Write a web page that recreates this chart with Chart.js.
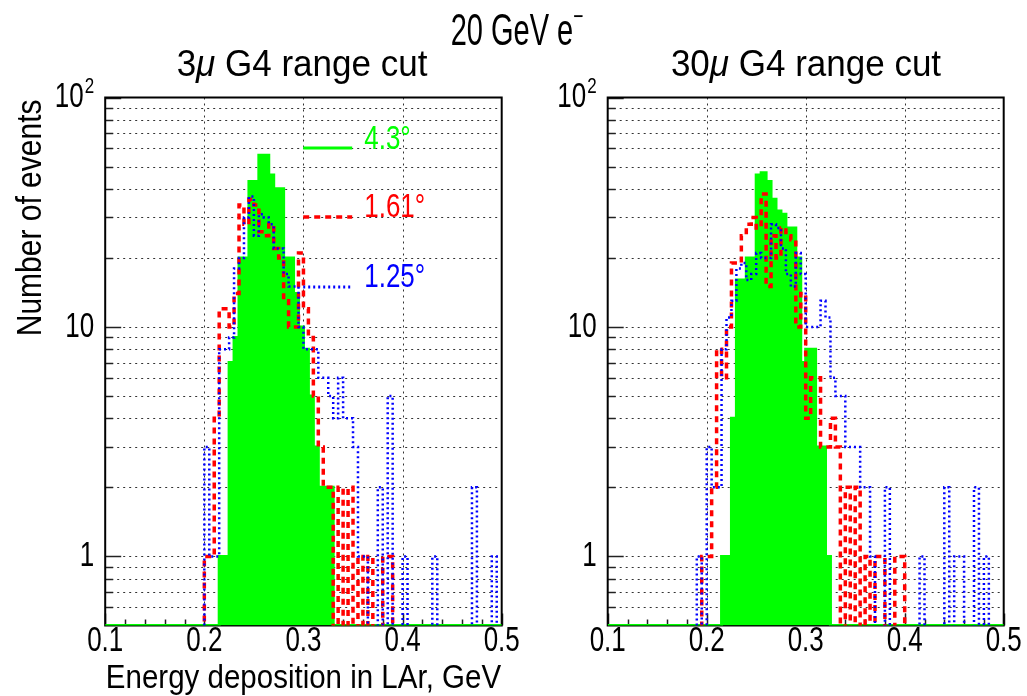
<!DOCTYPE html>
<html>
<head>
<meta charset="utf-8">
<script src="https://cdn.jsdelivr.net/npm/chart.js@4.4.0/dist/chart.umd.min.js"></script>
<style>
  html, body { margin: 0; padding: 0; background: #fff; }
  #wrap { position: relative; width: 1027px; height: 696px; overflow: hidden; }
  canvas { position: absolute; left: 0; top: 0; }
  .title {
    position: absolute;
    font-family: "Liberation Sans", Arial, sans-serif;
    color: #000;
    white-space: nowrap;
    line-height: 1;
  }
  .title sup { font-size: 60%; vertical-align: 0.75em; }
</style>
</head>
<body>
<div id="wrap">
  <canvas id="leftChart" width="1027" height="696"></canvas>
  <canvas id="rightChart" width="1027" height="696"></canvas>
  <div class="title" style="left:517px; top:28px; font-size:29px; transform: translate(-50%,-50%) scaleY(1.5);">20 GeV e<sup>&minus;</sup></div>
  <div class="title" style="left:302px; top:62px; font-size:35px; transform: translate(-50%,-50%) scaleY(1.08);">3<i>&mu;</i> G4 range cut</div>
  <div class="title" style="left:806px; top:62px; font-size:35px; transform: translate(-50%,-50%) scaleY(1.08);">30<i>&mu;</i> G4 range cut</div>
</div>

<script>
// histogram binning, energy in GeV
const binLow = 0.1;
const binHigh = 0.5;
const binWidth = 0.005;
const firstBin = 18; // arrays below start at bin 18 (0.19 GeV), earlier bins are empty

const xTicks = [0.1, 0.2, 0.3, 0.4, 0.5];
const xTickLabels = ['0.1', '0.2', '0.3', '0.4', '0.5'];
const xGridValues = [0.2, 0.3, 0.4];
const yTicks = [1, 10, 100];
const yTickLabels = ['1', '10', '10|2'];
const yGridValues = [0.6, 0.7, 0.8, 0.9, 1, 2, 3, 4, 5, 6, 7, 8, 9, 10, 20, 30, 40, 50, 60, 70, 80, 90];
const yMin = 0.5;
const yMax = 100;

const legendLabels = ['4.3°', '1.61°', '1.25°'];

// 3 micron range cut
const greenLeft = [0, 0, 0, 0, 0, 1, 1, 7, 9, 20, 20, 43, 43, 56, 56, 46, 40, 40, 20, 20, 14, 10, 8, 5, 3, 2, 2, 2,
  0, 0, 0, 0, 0, 0, 0, 0, 0, 0, 0, 0, 0, 0, 0, 0, 0, 0, 0, 0, 0, 0, 0, 0, 0, 0, 0, 0, 0, 0, 0, 0, 0, 0];
const redLeft = [0, 0, 1, 1, 4, 12, 12, 10, 14, 34, 28, 36, 34, 26, 25, 28, 22, 20, 13, 10, 10, 21, 12, 9, 5, 3, 2, 2,
  0, 2, 0, 2, 0, 1, 0, 1, 0, 0, 1, 1, 0, 0, 0, 0, 0, 0, 0, 0, 0, 0, 0, 0, 0, 0, 0, 0, 0, 0, 0, 0, 0, 0];
const blueLeft = [0, 0, 3, 1, 1, 8, 8, 9, 18, 20, 30, 37, 25, 31, 30, 28, 22, 22, 17, 15, 15, 10, 8, 8, 8, 6, 6, 5,
  4, 6, 4, 4, 3, 1, 1, 0, 0, 2, 0, 5, 0, 0, 1, 0, 0, 0, 0, 0, 1, 0, 0, 0, 0, 0, 0, 0, 2, 0, 0, 0, 1, 0];

// 30 micron range cut
const greenRight = [0, 0, 0, 0, 0, 1, 1, 4, 16, 16, 20, 20, 46, 47, 43, 36, 32, 31, 27, 27, 20, 7, 8, 8, 3, 3, 1,
  0, 0, 0, 0, 0, 0, 0, 0, 0, 0, 0, 0, 0, 0, 0, 0, 0, 0, 0, 0, 0, 0, 0, 0, 0, 0, 0, 0, 0, 0, 0, 0, 0, 0, 0];
const redRight = [0, 1, 1, 2, 8, 6, 10, 19, 19, 25, 28, 30, 27, 38, 15, 25, 20, 27, 25, 24, 10, 14, 4, 6, 6, 3, 3, 4,
  3, 0, 2, 0, 2, 0, 1, 0, 1, 1, 0, 0, 1, 1, 0, 0, 0, 0, 0, 0, 0, 0, 0, 0, 0, 0, 0, 0, 0, 0, 0, 0, 0, 0];
const blueRight = [1, 0, 3, 2, 2, 8, 11, 13, 18, 19, 16, 17, 21, 20, 20, 28, 27, 22, 17, 15, 21, 17, 10, 10, 10, 13, 11, 6,
  5, 5, 3, 3, 3, 2, 2, 1, 0, 0, 2, 0, 0, 0, 0, 0, 0, 1, 0, 0, 0, 0, 2, 0, 1, 1, 0, 0, 2, 0, 1, 0, 0, 0];

const FONT = '"Liberation Sans", Arial, sans-serif';

/**
 * Turns bin counts into step points (left edge of every bin + closing right edge).
 * Empty bins are sent to `empty` so they fall on / below the frame like ROOT does.
 */
function histPoints(counts, empty) {
  const nBins = Math.round((binHigh - binLow) / binWidth);
  const points = [];
  for (let k = 0; k < nBins; k++) {
    const c = k >= firstBin ? counts[k - firstBin] : 0;
    points.push({ x: binLow + k * binWidth, y: c > 0 ? c : empty });
  }
  points.push({ x: binHigh, y: points[nBins - 1].y });
  return points;
}

function stretchedText(ctx, text, x, y, size, opts = {}) {
  ctx.save();
  ctx.translate(x, y);
  if (opts.rotate) ctx.rotate(opts.rotate);
  ctx.scale(1, opts.sy || 1.3);
  ctx.font = `${size}px ${FONT}`;
  ctx.fillStyle = opts.color || '#000';
  ctx.textAlign = opts.align || 'center';
  ctx.textBaseline = 'middle';
  ctx.fillText(text, 0, 0);
  ctx.restore();
}

const rootAxes = {
  id: 'rootAxes',
  beforeDatasetsDraw(chart) {
    const { ctx, chartArea: ca, scales } = chart;
    ctx.save();
    // dotted grid
    ctx.strokeStyle = '#333';
    ctx.lineWidth = 1;
    ctx.setLineDash([2, 4]);
    yGridValues.forEach(v => {
      const y = Math.round(scales.y.getPixelForValue(v)) + 0.5;
      ctx.beginPath();
      ctx.moveTo(ca.left, y);
      ctx.lineTo(ca.right, y);
      ctx.stroke();
    });
    xGridValues.forEach(v => {
      const x = Math.round(scales.x.getPixelForValue(v)) + 0.5;
      ctx.beginPath();
      ctx.moveTo(x, ca.top);
      ctx.lineTo(x, ca.bottom);
      ctx.stroke();
    });
    ctx.setLineDash([]);

    // tick marks, drawn inside the frame
    ctx.strokeStyle = '#222';
    ctx.lineWidth = 1.5;
    yGridValues.concat([100]).forEach(v => {
      const y = Math.round(scales.y.getPixelForValue(v)) + 0.5;
      const len = yTicks.includes(v) ? 16 : 8;
      ctx.beginPath();
      ctx.moveTo(ca.left, y);
      ctx.lineTo(ca.left + len, y);
      ctx.stroke();
    });
    for (let i = 0; i <= 20; i++) {
      const x = Math.round(scales.x.getPixelForValue(binLow + i * 0.02)) + 0.5;
      const len = i % 5 === 0 ? 12 : 6;
      ctx.beginPath();
      ctx.moveTo(x, ca.bottom);
      ctx.lineTo(x, ca.bottom - len);
      ctx.stroke();
    }

    // frame (histograms are drawn over it, as in the original)
    ctx.strokeStyle = '#000';
    ctx.lineWidth = 2;
    ctx.strokeRect(ca.left, ca.top, ca.right - ca.left, ca.bottom - ca.top);
    ctx.restore();
  },
  afterDatasetsDraw(chart, args, opts) {
    const { ctx, chartArea: ca, scales } = chart;
    ctx.save();

    // tick labels
    xTicks.forEach((v, i) => {
      stretchedText(ctx, xTickLabels[i], scales.x.getPixelForValue(v), ca.bottom + 16, 26, { sy: 1.35 });
    });
    yTicks.forEach((v, i) => {
      const y = scales.y.getPixelForValue(v);
      const right = ca.left - 11;
      const [base, exp] = yTickLabels[i].split('|');
      if (exp) {
        ctx.font = `17px ${FONT}`;
        const w = ctx.measureText(exp).width;
        stretchedText(ctx, exp, right, y - 11, 17, { align: 'right', sy: 1.35 });
        stretchedText(ctx, base, right - w - 1, y, 26, { align: 'right', sy: 1.35 });
      } else {
        stretchedText(ctx, base, right, y, 26, { align: 'right', sy: 1.35 });
      }
    });

    if (opts.axisTitles) {
      stretchedText(ctx, 'Energy deposition in LAr, GeV', (ca.left + ca.right) / 2, ca.bottom + 53, 29.5, { sy: 1.15 });
      stretchedText(ctx, 'Number of events', 31, ca.top + 2, 30, { align: 'right', rotate: -Math.PI / 2, sy: 1.15 });
    }

    if (opts.legend) {
      const datasets = chart.data.datasets;
      const rows = [
        { ds: datasets[2], lineY: 50.5, textY: 42.5 },
        { ds: datasets[1], lineY: 119.5, textY: 110.5 },
        { ds: datasets[0], lineY: 189.5, textY: 180 },
      ];
      rows.forEach(r => {
        ctx.save();
        ctx.strokeStyle = r.ds.borderColor;
        ctx.lineWidth = r.ds.legendWidth;
        ctx.setLineDash(r.ds.borderDash || []);
        ctx.beginPath();
        ctx.moveTo(ca.left + 198, ca.top + r.lineY);
        ctx.lineTo(ca.left + 247, ca.top + r.lineY);
        ctx.stroke();
        ctx.restore();
        stretchedText(ctx, r.ds.label, ca.left + 259, ca.top + r.textY, 26, { align: 'left', color: r.ds.borderColor, sy: 1.3 });
      });
    }
    ctx.restore();
  }
};

function makeChart(canvasId, green, red, blue, padding, opts) {
  const ctx = document.getElementById(canvasId).getContext('2d');
  return new Chart(ctx, {
    type: 'line',
    data: {
      datasets: [
        {
          label: legendLabels[2],
          data: histPoints(blue, 0.3),
          borderColor: '#0000ff',
          borderWidth: 2.5,
          legendWidth: 3,
          borderDash: [2, 3],
          stepped: true,
          pointRadius: 0,
          fill: false,
        },
        {
          label: legendLabels[1],
          data: histPoints(red, 0.3),
          borderColor: '#ff0000',
          borderWidth: 3.5,
          legendWidth: 3.5,
          borderDash: [6, 5],
          stepped: true,
          pointRadius: 0,
          fill: false,
        },
        {
          label: legendLabels[0],
          data: histPoints(green, yMin),
          borderColor: '#00ff00',
          backgroundColor: '#00ff00',
          borderWidth: 3,
          legendWidth: 3,
          stepped: true,
          pointRadius: 0,
          fill: 'start',
        },
      ],
    },
    options: {
      responsive: false,
      animation: false,
      devicePixelRatio: 1,
      events: [],
      layout: { padding },
      scales: {
        x: { type: 'linear', min: binLow, max: binHigh, display: false },
        y: { type: 'logarithmic', min: yMin, max: yMax, display: false },
      },
      plugins: {
        legend: { display: false },
        tooltip: { enabled: false },
        rootAxes: opts,
      },
    },
    plugins: [rootAxes],
  });
}

makeChart('leftChart', greenLeft, redLeft, blueLeft,
  { left: 105.2, right: 1027 - 501.7, top: 97.5, bottom: 696 - 625.5 },
  { axisTitles: true, legend: true });
makeChart('rightChart', greenRight, redRight, blueRight,
  { left: 607.7, right: 1027 - 1003.7, top: 97.5, bottom: 696 - 625.5 },
  { axisTitles: false, legend: false });
</script>
</body>
</html>
